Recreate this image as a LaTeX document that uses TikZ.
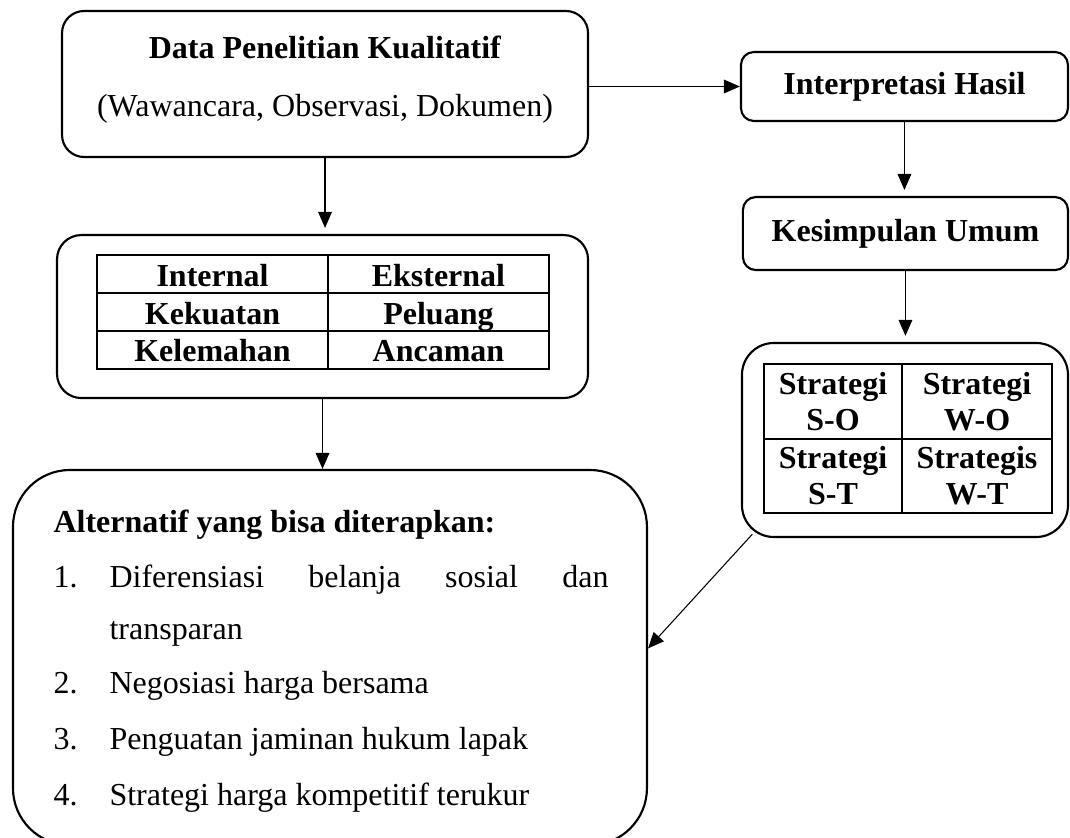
\documentclass[tikz,border=0pt,12pt]{standalone}
\usepackage{fontspec}
\setmainfont{Liberation Serif}
\usetikzlibrary{positioning,arrows.meta,calc}

\begin{document}
\begin{tikzpicture}[
  font=\fontsize{12}{14}\selectfont,
  box/.style  = {draw=black, line width=0.8pt, rounded corners=2.9mm, fill=white,
                 align=center, inner sep=0pt},
  hd/.style   = {font=\fontsize{12}{14}\selectfont\bfseries},
  cell/.style = {draw=black, line width=0.8pt, inner sep=0pt, align=center,
                 font=\fontsize{12}{13.5}\selectfont\bfseries},
  scell/.style = {cell, text height=9.8pt, text depth=0.8pt},
  tag/.style  = {anchor=base west, inner sep=0pt},
  arr/.style  = {-{Triangle[length=2.1mm,width=1.8mm]}, line width=0.4pt, black},
  gap/.style  = {shorten >=0.8mm}]

\useasboundingbox (0,0) rectangle (14.103,-11.045);

% left column: data, swot grid, alternatives
\node[box, text depth=5.6pt, minimum width=6.933cm, minimum height=1.924cm]
  (data) at (4.284,-1.107)
  {\textbf{Data Penelitian Kualitatif}\\[7.9pt] (Wawancara, Observasi, Dokumen)};

\node[box, rounded corners=3.2mm, minimum width=6.999cm, minimum height=2.148cm]
  (swot) at (4.251,-4.172) {};
\foreach \r/\y/\a/\b in {1/-3.614/Internal/Eksternal,
                         2/-4.113/Kekuatan/Peluang,
                         3/-4.612/Kelemahan/Ancaman} {
  \node[scell, minimum width=3.045cm, minimum height=0.499cm] (in\r) at (2.801,\y) {\a};
  \node[scell, minimum width=2.913cm, minimum height=0.499cm] (ex\r) at (5.779,\y) {\b};
}

\node[box, rounded corners=7.5mm, minimum width=8.356cm, minimum height=4.943cm]
  (alt) at (4.349,-8.666) {};
\node[tag, hd] (althd) at (0.699,-7.012) {Alternatif yang bisa diterapkan:};
\node[tag] (n1) at (0.699,-7.737) {1.};
\node[tag] (t1) at (1.437,-7.737) {\makebox[6.576cm][s]{Diferensiasi belanja sosial dan}};
\node[tag] (t1b) at (1.437,-8.435) {transparan};
\foreach \i/\y/\t in {2/-9.134/Negosiasi harga bersama,
                      3/-9.885/Penguatan jaminan hukum lapak,
                      4/-10.610/Strategi harga kompetitif terukur} {
  \node[tag] (n\i) at (0.699,\y) {\i.};
  \node[tag] (t\i) at (1.437,\y) {\t};
}

% right column: interpretation, conclusion, strategy grid
\node[box, hd, rounded corners=1.7mm, minimum width=4.310cm, minimum height=0.909cm]
  (interp) at (11.921,-1.140) {Interpretasi Hasil};
\node[box, hd, rounded corners=1.7mm, minimum width=4.284cm, minimum height=0.962cm]
  (kesim) at (11.934,-3.078) {Kesimpulan Umum};

\node[box, rounded corners=4.2mm, minimum width=4.297cm, minimum height=2.557cm]
  (strat) at (11.928,-5.799) {};
\foreach \n/\x/\y/\w/\h/\t in {so/10.979/-5.292/1.819/0.988/{Strategi\\S-O},
                               wo/12.877/-5.292/1.977/0.988/{Strategi\\W-O},
                               st/10.979/-6.274/1.819/0.975/{Strategi\\S-T},
                               wt/12.877/-6.274/1.977/0.975/{Strategis\\W-T}}
  \node[cell, minimum width=\w cm, minimum height=\h cm] (\n) at (\x,\y) {\t};

% connectors
\draw[arr] (data.east |- interp.west) -- (interp.west);
\draw[arr, gap] (interp.south) -- (interp.south |- kesim.north);
\draw[arr, gap] (kesim.south) -- (kesim.south |- strat.north);
\draw[arr, gap] (data.south) -- (data.south |- swot.north);
\draw[arr] (swot.south) -- (swot.south |- alt.north);
\draw[arr] ($(strat.south west)+(0.15,0.05)$) -- ($(alt.east)+(0,0.12)$);

\end{tikzpicture}
\end{document}
